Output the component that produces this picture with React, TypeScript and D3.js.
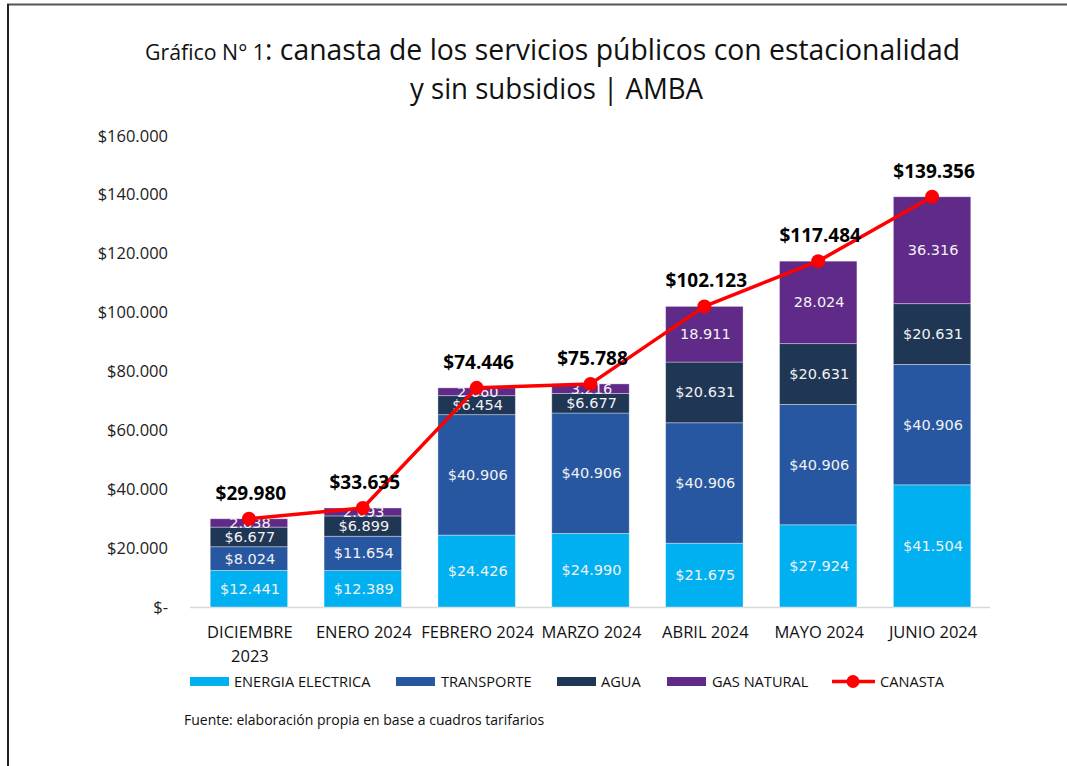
import React from "react";
import * as d3 from "d3";

const categories = ["DICIEMBRE 2023", "ENERO 2024", "FEBRERO 2024", "MARZO 2024", "ABRIL 2024", "MAYO 2024", "JUNIO 2024"];
const energia = [12441, 12389, 24426, 24990, 21675, 27924, 41504];
const transporte = [8024, 11654, 40906, 40906, 40906, 40906, 40906];
const agua = [6677, 6899, 6454, 6677, 20631, 20631, 20631];
const gas = [2838, 2693, 2660, 3216, 18911, 28024, 36316];
const canasta = [29980, 33635, 74446, 75788, 102123, 117484, 139356];
const yTicks = [0, 20000, 40000, 60000, 80000, 100000, 120000, 140000, 160000];

const seriesNames = ["ENERGIA ELECTRICA", "TRANSPORTE", "AGUA", "GAS NATURAL"];
const seriesColors = ["#00b0f0", "#2757a0", "#1f3655", "#5f2a88"];
const seriesValues = [energia, transporte, agua, gas];
const seriesPrefix = ["$", "$", "$", ""];

const fmt = (v: number) => {
  const s = Math.round(v).toString();
  return s.replace(/\B(?=(\d{3})+(?!\d))/g, ".");
};

export default function App() {
  const W = 1067, H = 766;
  const x = d3.scaleBand<string>().domain(categories).range([192, 989]).paddingInner(0.32).paddingOuter(0.16);
  const y = d3.scaleLinear().domain([0, 160000]).range([607, 136]);
  const bw = x.bandwidth();

  const stacked = categories.map((c, i) => {
    let acc = 0;
    return seriesValues.map((s, k) => {
      const y0 = acc;
      acc += s[i];
      return { k, y0, y1: acc, v: s[i] };
    });
  });

  const line = d3.line<number>().x((_, i) => (x(categories[i]) as number) + bw / 2).y((d) => y(d));

  const sans = "'Open Sans', 'Noto Sans', sans-serif";
  const legendX = [190, 396, 557, 667];
  const legendTextX = [234, 441, 601, 712];

  return (
    <div style={{ position: "fixed", left: 0, top: 0 }}>
      <svg width={W} height={H} style={{ display: "block", background: "#fff" }}>
        <line x1={7} y1={4.5} x2={W} y2={4.5} stroke="#555" strokeWidth={2} />
        <line x1={8} y1={4} x2={8} y2={H} stroke="#222" strokeWidth={2} />

        <text x={145} y={60} fontFamily={sans} fontSize={21} fill="#111" textLength={120} lengthAdjust="spacingAndGlyphs">Gráfico N° 1</text>
        <text x={265} y={60} fontFamily={sans} fontSize={29} fill="#111" textLength={695} lengthAdjust="spacingAndGlyphs">: canasta de los servicios públicos con estacionalidad</text>
        <text x={410} y={99} fontFamily={sans} fontSize={29} fill="#111" textLength={293} lengthAdjust="spacingAndGlyphs">y sin subsidios | AMBA</text>

        {yTicks.map((t) => (
          <text key={t} x={168} y={y(t) + 5.5} textAnchor="end" fontFamily={sans} fontSize={16.5} fill="#222">
            {t === 0 ? "$-" : "$" + fmt(t)}
          </text>
        ))}

        <line x1={190} x2={990} y1={607.5} y2={607.5} stroke="#d9d9d9" strokeWidth={1.5} />

        {categories.map((c, i) => (
          <g key={c}>
            {stacked[i].map((s) => (
              <rect key={s.k} x={x(c)} y={y(s.y1)} width={bw} height={y(s.y0) - y(s.y1)} fill={seriesColors[s.k]} stroke="rgba(255,255,255,0.45)" strokeWidth={0.8} />
            ))}
            {stacked[i].map((s) => (
              <text key={"t" + s.k} x={(x(c) as number) + bw / 2 + 1} y={(y(s.y0) + y(s.y1)) / 2 + 5} textAnchor="middle" fontFamily="'DejaVu Sans', sans-serif" fontSize={14.5} fill="#f2f2f2">
                {seriesPrefix[s.k] + fmt(s.v)}
              </text>
            ))}
          </g>
        ))}

        <path d={line(canasta) || ""} fill="none" stroke="#ff0000" strokeWidth={3.5} strokeLinejoin="round" />
        {canasta.map((v, i) => (
          <circle key={i} cx={(x(categories[i]) as number) + bw / 2} cy={y(v)} r={7} fill="#ff0000" />
        ))}
        {canasta.map((v, i) => (
          <text key={"c" + i} x={(x(categories[i]) as number) + bw / 2 + 2} y={y(v) - 19} textAnchor="middle" fontFamily={sans} fontWeight="bold" fontSize={19} fill="#000">
            {"$" + fmt(v)}
          </text>
        ))}

        {categories.map((c, i) => {
          const cx = (x(c) as number) + bw / 2 + 1;
          const parts = i === 0 ? ["DICIEMBRE", "2023"] : [c];
          return (
            <text key={"x" + c} x={cx} y={638} textAnchor="middle" fontFamily={sans} fontSize={16.5} fill="#111">
              {parts.map((p, j) => (
                <tspan key={j} x={cx} dy={j === 0 ? 0 : 24}>{p}</tspan>
              ))}
            </text>
          );
        })}

        {seriesNames.map((n, k) => (
          <g key={n}>
            <rect x={legendX[k]} y={677} width={39} height={9} fill={seriesColors[k]} />
            <text x={legendTextX[k]} y={687} fontFamily={sans} fontSize={14.6} fill="#111">{n}</text>
          </g>
        ))}
        <line x1={832} x2={875} y1={681.5} y2={681.5} stroke="#ff0000" strokeWidth={3.5} />
        <circle cx={853} cy={681.5} r={6.5} fill="#ff0000" />
        <text x={880} y={687} fontFamily={sans} fontSize={14.6} fill="#111">CANASTA</text>

        <text x={184} y={725} fontFamily={sans} fontSize={14} fill="#111">Fuente: elaboración propia en base a cuadros tarifarios</text>
      </svg>
    </div>
  );
}
